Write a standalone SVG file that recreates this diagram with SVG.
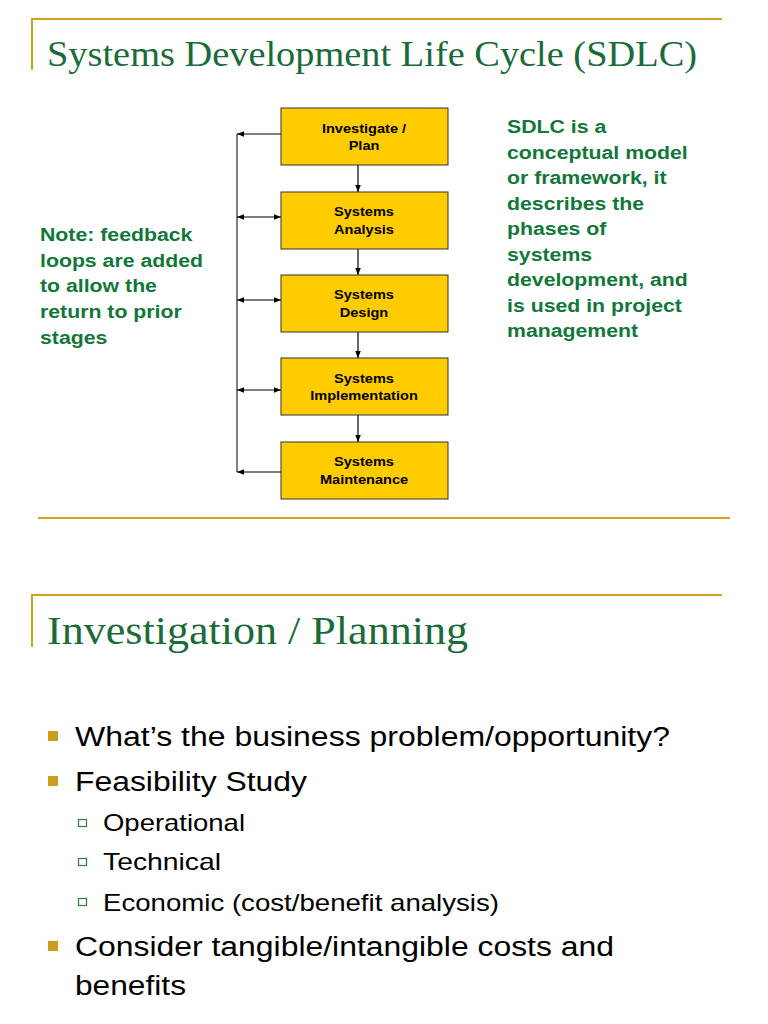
<svg xmlns="http://www.w3.org/2000/svg" width="768" height="1024" viewBox="0 0 768 1024">
<style>
.rule{stroke:#D4A020;stroke-width:2;fill:none}
.title{font-family:"Liberation Serif",serif;fill:#1B6B3A}
.box{fill:#FFCC00;stroke:#333;stroke-width:1}
.bt{font-family:"Liberation Sans",Arial,sans-serif;font-weight:bold;font-size:13px;fill:#000;text-anchor:middle}
.note{font-family:"Liberation Sans",Arial,sans-serif;font-weight:bold;font-size:19px;fill:#11773A}
.conn{stroke:#000;stroke-width:1.2;fill:none}
.vline{stroke:#555;stroke-width:1.5;fill:none}
.b1{font-family:"Liberation Sans",Arial,sans-serif;font-size:27px;fill:#000}
.b2{font-family:"Liberation Sans",Arial,sans-serif;font-size:24px;fill:#000}
</style>
<defs>
<marker id="ah" viewBox="0 0 10 10" refX="10" refY="5" markerWidth="7" markerHeight="7" orient="auto-start-reverse" markerUnits="userSpaceOnUse">
<path d="M0,1 L10,5 L0,9 Z" fill="#000"/>
</marker>
</defs>
<rect width="768" height="1024" fill="#fff"/>

<g id="slide1-header">
<line class="rule" x1="31" y1="19" x2="722" y2="19"/>
<line class="rule" x1="32" y1="19" x2="32" y2="70"/>
<text class="title" x="47" y="66" font-size="36" textLength="650" lengthAdjust="spacingAndGlyphs">Systems Development Life Cycle (SDLC)</text>
</g>

<g id="connectors">
<line class="vline" x1="237" y1="134" x2="237" y2="472"/>
<line class="conn" x1="281" y1="134" x2="237" y2="134" marker-end="url(#ah)"/>
<line class="conn" x1="237" y1="217" x2="281" y2="217" marker-start="url(#ah)" marker-end="url(#ah)"/>
<line class="conn" x1="237" y1="300" x2="281" y2="300" marker-start="url(#ah)" marker-end="url(#ah)"/>
<line class="conn" x1="237" y1="390" x2="281" y2="390" marker-start="url(#ah)" marker-end="url(#ah)"/>
<line class="conn" x1="281" y1="472" x2="237" y2="472" marker-end="url(#ah)"/>
<line class="conn" x1="358" y1="165" x2="358" y2="192" marker-end="url(#ah)"/>
<line class="conn" x1="358" y1="249" x2="358" y2="275" marker-end="url(#ah)"/>
<line class="conn" x1="358" y1="332" x2="358" y2="358" marker-end="url(#ah)"/>
<line class="conn" x1="358" y1="415" x2="358" y2="442" marker-end="url(#ah)"/>
</g>

<g id="node-investigate">
<rect class="box" x="281" y="108" width="167" height="57"/>
<g transform="translate(364 0) scale(1.12 1)"><text class="bt" x="0" y="133">Investigate /</text><text class="bt" x="0" y="150">Plan</text></g>
</g>
<g id="node-analysis">
<rect class="box" x="281" y="192" width="167" height="57"/>
<g transform="translate(364 0) scale(1.12 1)"><text class="bt" x="0" y="216">Systems</text><text class="bt" x="0" y="234">Analysis</text></g>
</g>
<g id="node-design">
<rect class="box" x="281" y="275" width="167" height="57"/>
<g transform="translate(364 0) scale(1.12 1)"><text class="bt" x="0" y="299">Systems</text><text class="bt" x="0" y="317">Design</text></g>
</g>
<g id="node-implementation">
<rect class="box" x="281" y="358" width="167" height="57"/>
<g transform="translate(364 0) scale(1.12 1)"><text class="bt" x="0" y="383">Systems</text><text class="bt" x="0" y="400">Implementation</text></g>
</g>
<g id="node-maintenance">
<rect class="box" x="281" y="442" width="167" height="57"/>
<g transform="translate(364 0) scale(1.12 1)"><text class="bt" x="0" y="466">Systems</text><text class="bt" x="0" y="484">Maintenance</text></g>
</g>

<g id="note-left" transform="translate(40 0) scale(1.12 1)">
<text class="note" x="0" y="241">Note: feedback</text>
<text class="note" x="0" y="267">loops are added</text>
<text class="note" x="0" y="292">to allow the</text>
<text class="note" x="0" y="318">return to prior</text>
<text class="note" x="0" y="344">stages</text>
</g>

<g id="note-right" transform="translate(507 0) scale(1.12 1)">
<text class="note" x="0" y="133">SDLC is a</text>
<text class="note" x="0" y="159">conceptual model</text>
<text class="note" x="0" y="184">or framework, it</text>
<text class="note" x="0" y="210">describes the</text>
<text class="note" x="0" y="235">phases of</text>
<text class="note" x="0" y="261">systems</text>
<text class="note" x="0" y="286">development, and</text>
<text class="note" x="0" y="312">is used in project</text>
<text class="note" x="0" y="337">management</text>
</g>

<line class="rule" x1="38" y1="518" x2="730" y2="518"/>

<g id="slide2-header">
<line class="rule" x1="31" y1="595" x2="722" y2="595"/>
<line class="rule" x1="32" y1="595" x2="32" y2="647"/>
<text class="title" x="47" y="644" font-size="40" textLength="421" lengthAdjust="spacingAndGlyphs">Investigation / Planning</text>
</g>

<g id="bullets">
<rect x="48" y="731" width="10" height="10" fill="#CC9E1E"/>
<text class="b1" x="75" y="746" textLength="595" lengthAdjust="spacingAndGlyphs">What’s the business problem/opportunity?</text>
<rect x="48" y="776" width="10" height="10" fill="#CC9E1E"/>
<text class="b1" x="75" y="791" textLength="232" lengthAdjust="spacingAndGlyphs">Feasibility Study</text>
<rect x="78.5" y="819.5" width="8" height="7" fill="none" stroke="#3A7A3A" stroke-width="1.2"/>
<text class="b2" x="103" y="831" textLength="142" lengthAdjust="spacingAndGlyphs">Operational</text>
<rect x="78.5" y="858.5" width="8" height="7" fill="none" stroke="#3A7A3A" stroke-width="1.2"/>
<text class="b2" x="103" y="870" textLength="118" lengthAdjust="spacingAndGlyphs">Technical</text>
<rect x="78.5" y="898.5" width="8" height="7" fill="none" stroke="#3A7A3A" stroke-width="1.2"/>
<text class="b2" x="103" y="911" textLength="396" lengthAdjust="spacingAndGlyphs">Economic (cost/benefit analysis)</text>
<rect x="48" y="941" width="10" height="10" fill="#CC9E1E"/>
<text class="b1" x="75" y="956" textLength="539" lengthAdjust="spacingAndGlyphs">Consider tangible/intangible costs and</text>
<text class="b1" x="75" y="995" textLength="111" lengthAdjust="spacingAndGlyphs">benefits</text>
</g>
</svg>
